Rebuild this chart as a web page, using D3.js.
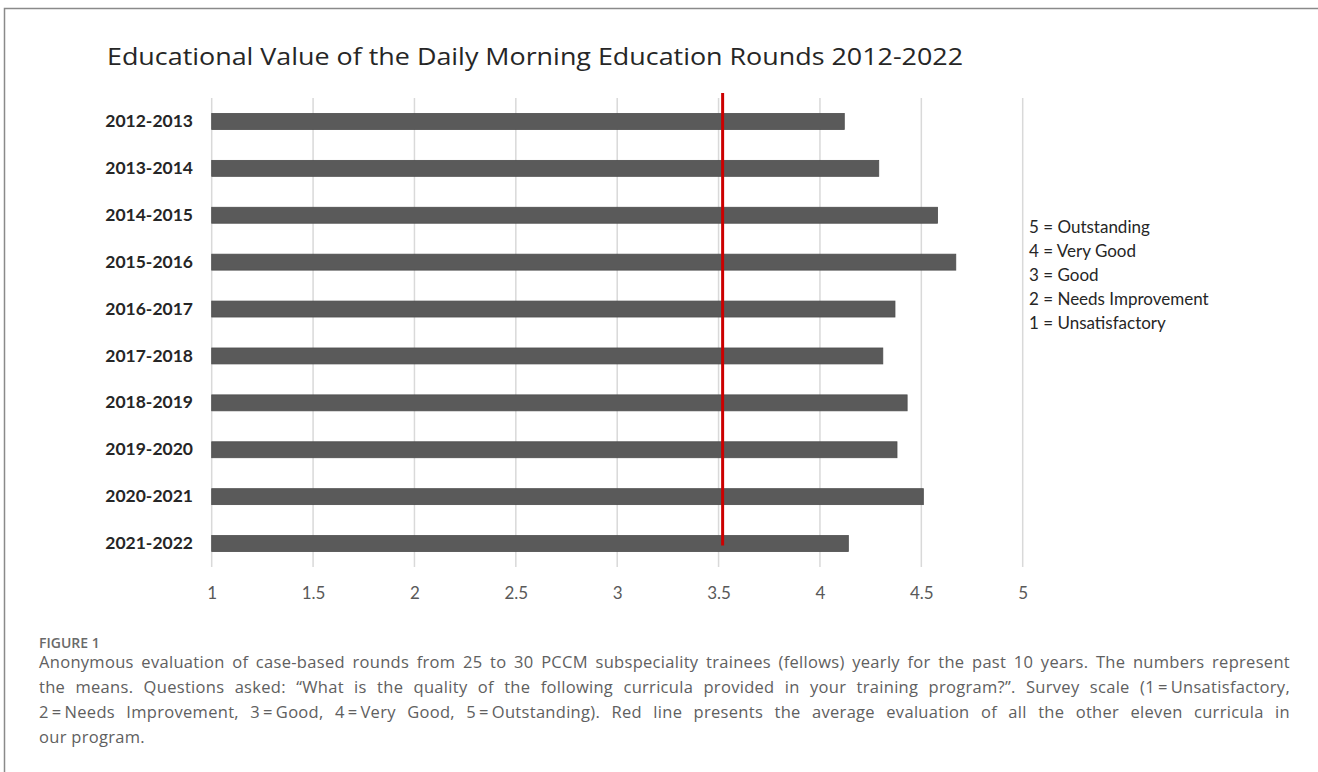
<!DOCTYPE html>
<html>
<head>
<meta charset="utf-8">
<script src="https://cdn.jsdelivr.net/npm/d3@7"></script>
<style>
	html, body { margin: 0; padding: 0; background: #fff; }
	svg { display: block; }
</style>
</head>
<body>
<div class="figure"></div>
<script>
// values
const years = ['2012-2013', '2013-2014', '2014-2015', '2015-2016', '2016-2017',
	'2017-2018', '2018-2019', '2019-2020', '2020-2021', '2021-2022']
const means = [4.12, 4.29, 4.58, 4.67, 4.37, 4.31, 4.43, 4.38, 4.51, 4.14]
const otherCurriculaAvg = 3.52
const xTicks = [1, 1.5, 2, 2.5, 3, 3.5, 4, 4.5, 5]
const scaleLabels = ['5 = Outstanding', '4 = Very Good', '3 = Good', '2 = Needs Improvement', '1 = Unsatisfactory']

const title = 'Educational Value of the Daily Morning Education Rounds 2012-2022'
const figLabel = 'FIGURE 1'
const captionLines = [
	'Anonymous evaluation of case-based rounds from 25 to 30 PCCM subspeciality trainees (fellows) yearly for the past 10 years. The numbers represent',
	'the means. Questions asked: \u201CWhat is the quality of the following curricula provided in your training program?\u201D. Survey scale (1\u2009=\u2009Unsatisfactory,',
	'2\u2009=\u2009Needs Improvement, 3\u2009=\u2009Good, 4\u2009=\u2009Very Good, 5\u2009=\u2009Outstanding). Red line presents the average evaluation of all the other eleven curricula in',
	'our program.'
]

const width = 1318
const height = 772
const chartFont = 'Lato, "Open Sans", sans-serif'
const captionFont = '"Open Sans", sans-serif'

const data = years.map((y, i) => ({ year: y, value: means[i] }))

const scaleX = d3.scaleLinear()
	.domain([1, 5])
	.range([211.7, 1022.7])

const scaleY = d3.scaleBand()
	.domain(years)
	.range([98, 567])
	.paddingInner(0.66)
	.paddingOuter(0.33)

const svg = d3.select('.figure')
	.append('svg')
	.attr('width', width)
	.attr('height', height)

svg.append('rect')
	.attr('width', width)
	.attr('height', height)
	.attr('fill', '#fff')

// frame round the figure
svg.append('path')
	.attr('d', `M4.5,${height} V8.5 H${width}`)
	.attr('fill', 'none')
	.attr('stroke', '#8a8a8a')
	.attr('stroke-width', 1.5)

svg.append('text')
	.attr('x', 107)
	.attr('y', 65)
	.attr('font-family', captionFont)
	.attr('font-size', 24.5)
	.attr('fill', '#262626')
	.attr('textLength', 856)
	.attr('lengthAdjust', 'spacingAndGlyphs')
	.text(title)

// grid
const yTop = scaleY.range()[0]
const yBottom = scaleY.range()[1]

svg.append('g')
	.attr('class', 'grid')
	.selectAll('line')
	.data(xTicks)
	.join('line')
		.attr('x1', d => scaleX(d))
		.attr('x2', d => scaleX(d))
		.attr('y1', yTop)
		.attr('y2', yBottom)
		.attr('stroke', '#d9d9d9')
		.attr('stroke-width', 1.5)

// x axis labels (no axis line in the original)
const xAxis = d3.axisBottom(scaleX)
	.tickValues(xTicks)
	.tickFormat(d3.format('~g'))
	.tickSize(0)
	.tickPadding(0)

const gx = svg.append('g')
	.attr('transform', `translate(0, ${yBottom + 26})`)
	.call(xAxis)
gx.select('.domain').remove()
gx.selectAll('text')
	.attr('font-family', chartFont)
	.attr('font-size', 17)
	.attr('fill', '#595959')
	.attr('dy', '0.35em')

// y axis labels
const yAxis = d3.axisLeft(scaleY)
	.tickSize(0)
	.tickPadding(0)

const gy = svg.append('g')
	.attr('transform', 'translate(193, 0)')
	.call(yAxis)
gy.select('.domain').remove()
gy.selectAll('text')
	.attr('font-family', chartFont)
	.attr('font-weight', 'bold')
	.attr('font-size', 17.5)
	.attr('fill', '#262626')

// bars
svg.append('g')
	.attr('class', 'bars')
	.selectAll('rect')
	.data(data)
	.join('rect')
		.attr('x', scaleX(1))
		.attr('y', d => scaleY(d.year))
		.attr('width', d => scaleX(d.value) - scaleX(1))
		.attr('height', scaleY.bandwidth())
		.attr('fill', '#5a5a5a')
		.attr('stroke', '#4d4d4d')
		.attr('stroke-width', 0.8)

// average of the other curricula
const lastYear = years[years.length - 1]
svg.append('line')
	.attr('x1', scaleX(otherCurriculaAvg))
	.attr('x2', scaleX(otherCurriculaAvg))
	.attr('y1', yTop - 5)
	.attr('y2', scaleY(lastYear) + scaleY.bandwidth() / 2 + 2)
	.attr('stroke', '#cc0000')
	.attr('stroke-width', 3)

// survey scale key
svg.append('g')
	.attr('class', 'key')
	.selectAll('text')
	.data(scaleLabels)
	.join('text')
		.attr('x', 1029)
		.attr('y', (d, i) => 227 + i * 24)
		.attr('dy', '0.35em')
		.attr('font-family', chartFont)
		.attr('font-size', 17)
		.attr('fill', '#262626')
		.text(d => d)

// caption
svg.append('text')
	.attr('x', 39)
	.attr('y', 648)
	.attr('font-family', captionFont)
	.attr('font-weight', 600)
	.attr('font-size', 14)
	.attr('fill', '#6a6a6a')
	.text(figLabel)

const captionLeft = 39
const captionWidth = 1251

const lines = svg.append('g')
	.attr('class', 'caption')
	.selectAll('text')
	.data(captionLines)
	.join('text')
		.attr('x', captionLeft)
		.attr('y', (d, i) => 668 + i * 25)
		.attr('font-family', captionFont)
		.attr('font-size', 16.5)
		.attr('letter-spacing', 0.3)
		.attr('fill', '#606060')
		.text(d => d)

// justify every line but the last
lines.each(function(d, i) {
	if (i === captionLines.length - 1) return
	const natural = this.getComputedTextLength()
	const spaces = d.split(' ').length - 1
	const extra = Math.max(0, (captionWidth - natural) / spaces)
	d3.select(this).attr('word-spacing', extra)
})
</script>
</body>
</html>
